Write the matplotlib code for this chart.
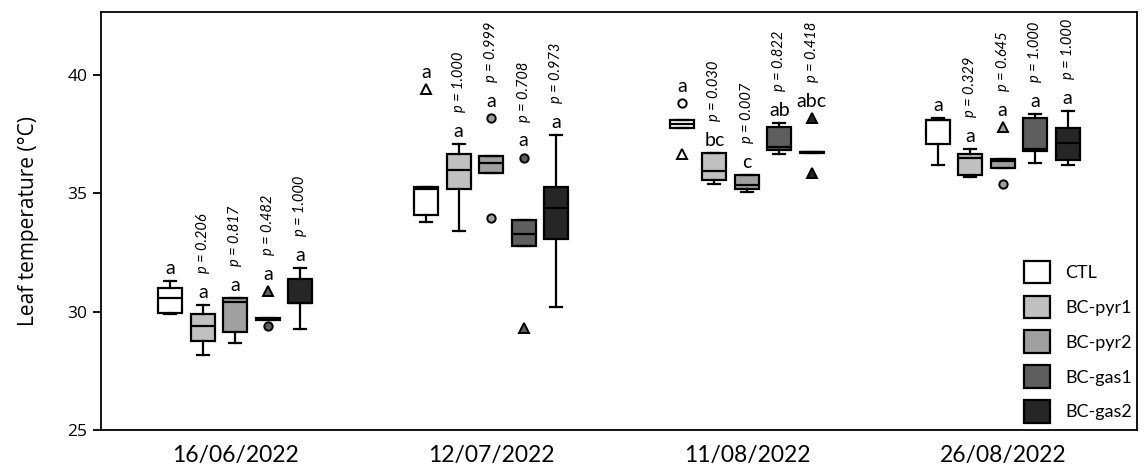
import numpy as np
import matplotlib.pyplot as plt
from matplotlib.patches import Patch

dates = ["16/06/2022", "12/07/2022", "11/08/2022", "26/08/2022"]
treatments = ["CTL", "BC-pyr1", "BC-pyr2", "BC-gas1", "BC-gas2"]
colours = ["#ffffff", "#c0c0c0", "#a0a0a0", "#5e5e5e", "#262626"]

# whislo, q1, median, q3, whishi for each treatment
stats_1606 = [[29.89, 29.96, 30.59, 30.99, 31.29],
              [28.17, 28.76, 29.39, 29.89, 30.27],
              [28.66, 29.15, 30.41, 30.58, 30.58],
              [29.64, 29.64, 29.68, 29.72, 29.72],
              [29.25, 30.35, 30.38, 31.39, 31.86]]
stats_1207 = [[33.79, 34.07, 35.17, 35.28, 35.28],
              [33.41, 35.17, 35.97, 36.67, 37.07],
              [35.87, 35.87, 36.27, 36.58, 36.58],
              [32.77, 32.77, 33.27, 33.87, 33.87],
              [30.20, 33.08, 34.39, 35.28, 37.46]]
stats_1108 = [[37.77, 37.77, 37.94, 38.10, 38.10],
              [35.38, 35.56, 35.94, 36.69, 36.69],
              [35.07, 35.17, 35.35, 35.77, 35.77],
              [36.67, 36.84, 36.97, 37.80, 37.98],
              [36.70, 36.70, 36.72, 36.76, 36.76]]
stats_2608 = [[36.20, 37.07, 38.08, 38.10, 38.17],
              [35.69, 35.77, 36.50, 36.67, 36.88],
              [36.08, 36.08, 36.38, 36.46, 36.46],
              [36.27, 36.79, 36.86, 38.17, 38.36],
              [36.18, 36.39, 37.10, 37.77, 38.48]]

# outliers (circles) and extremes (triangles)
circles_1606 = [[], [], [], [29.39], []]
circles_1207 = [[], [], [38.17, 33.97], [36.50], []]
circles_1108 = [[38.79], [], [], [], []]
circles_2608 = [[], [], [35.38], [], []]
triangles_1606 = [[], [], [], [30.85], []]
triangles_1207 = [[39.39], [], [], [29.32], []]
triangles_1108 = [[36.65], [], [], [], [38.17, 35.87]]
triangles_2608 = [[], [], [37.80], [], []]

letters_1606 = ["a", "a", "a", "a", "a"]
letters_1207 = ["a", "a", "a", "a", "a"]
letters_1108 = ["a", "bc", "c", "ab", "abc"]
letters_2608 = ["a", "a", "a", "a", "a"]

pvals_1606 = [None, "0.206", "0.817", "0.482", "1.000"]
pvals_1207 = [None, "1.000", "0.999", "0.708", "0.973"]
pvals_1108 = [None, "0.030", "0.007", "0.822", "0.418"]
pvals_2608 = [None, "0.329", "0.645", "1.000", "1.000"]

all_stats = [stats_1606, stats_1207, stats_1108, stats_2608]
all_circles = [circles_1606, circles_1207, circles_1108, circles_2608]
all_triangles = [triangles_1606, triangles_1207, triangles_1108, triangles_2608]
all_letters = [letters_1606, letters_1207, letters_1108, letters_2608]
all_pvals = [pvals_1606, pvals_1207, pvals_1108, pvals_2608]

txt_font = "Lato"
ax_font = "Open Sans"

fig = plt.figure(figsize=(11.44, 4.71), dpi=100)
ax = fig.add_axes([0.0883, 0.087, 0.9056, 0.8875])

step = 0.127
width = 0.094

for g in range(len(dates)):
    for t in range(len(treatments)):
        pos = g + (t - 2) * step
        lo, q1, med, q3, hi = all_stats[g][t]
        st = [dict(whislo=lo, q1=q1, med=med, q3=q3, whishi=hi, fliers=[])]
        ax.bxp(st, positions=[pos], widths=width, patch_artist=True,
               showfliers=False, manage_ticks=False,
               boxprops=dict(facecolor=colours[t], edgecolor="black", linewidth=1.6),
               medianprops=dict(color="black", linewidth=1.6),
               whiskerprops=dict(color="black", linewidth=1.6),
               capprops=dict(color="black", linewidth=1.6),
               capwidths=width * 0.5)
        circ = all_circles[g][t]
        tri = all_triangles[g][t]
        if circ:
            ax.plot([pos] * len(circ), circ, "o", ms=6, mfc=colours[t],
                    mec="black", mew=1.4, zorder=4)
        if tri:
            ax.plot([pos] * len(tri), tri, "^", ms=7, mfc=colours[t],
                    mec="black", mew=1.4, zorder=4)

        top = max([hi] + circ + tri)
        extra = 3 if top > hi else 0
        ax.annotate(all_letters[g][t], (pos, top), xytext=(0, 9 + extra),
                    textcoords="offset points", ha="center", va="center",
                    fontsize=14, family=txt_font)
        p = all_pvals[g][t]
        if p is not None:
            ax.annotate("p = " + p, (pos, top), xytext=(0, 23 + extra),
                        textcoords="offset points", ha="center", va="bottom",
                        rotation=90, fontsize=10.5, style="italic",
                        family=txt_font)

ax.set_xlim(-0.525, 3.525)
ax.set_ylim(25, 42.65)
ax.set_xticks(range(len(dates)))
ax.set_xticklabels(dates, fontsize=16.5, family=txt_font)
ax.tick_params(axis="x", length=0, pad=11)
ax.set_yticks([25, 30, 35, 40])
ax.tick_params(axis="y", length=6, width=1.3, labelsize=12.5, pad=4)
for lab in ax.get_yticklabels():
    lab.set_family(ax_font)
ax.set_ylabel("Leaf temperature (°C)", fontsize=15, family=ax_font, labelpad=20)
for sp in ax.spines.values():
    sp.set_linewidth(1.3)

handles = [Patch(facecolor=c, edgecolor="black", linewidth=1.6) for c in colours]
ax.legend(handles, treatments, loc="lower right", bbox_to_anchor=(1.002, 0.0),
          frameon=False, prop=dict(family=txt_font, size=13),
          handlelength=1.45, handleheight=1.56, handletextpad=0.85,
          labelspacing=0.67, borderaxespad=0.0)

fig.savefig("out.png", dpi=100)
